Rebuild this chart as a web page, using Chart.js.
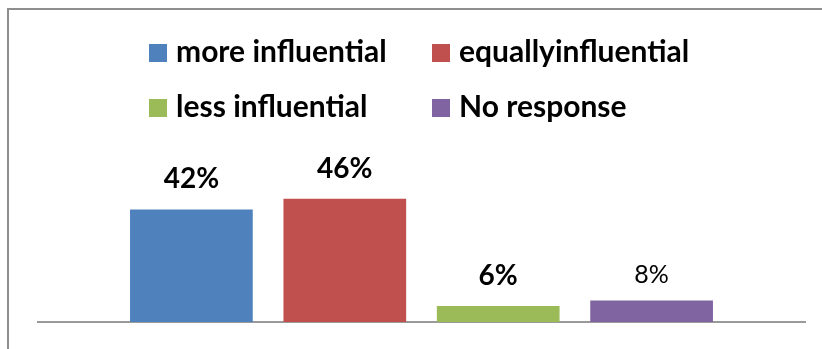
<!DOCTYPE html>
<html>
<head>
<meta charset="utf-8">
<script src="https://cdn.jsdelivr.net/npm/chart.js@4/dist/chart.umd.min.js"></script>
<style>
  html, body { margin: 0; padding: 0; background: #fff; overflow: hidden; }
  #wrap { position: relative; width: 822px; height: 349px; }
  #frame {
    position: absolute; left: 7px; top: 8px; width: 900px; height: 400px;
    border-left: 2px solid #8e8e8e; border-top: 2px solid #8e8e8e;
    box-sizing: border-box;
  }
  canvas { position: absolute; left: 0; top: 0; }
</style>
</head>
<body>
<div id="wrap">
  <div id="frame"></div>
  <canvas id="c" width="822" height="349"></canvas>
</div>
<script>
// Survey answers, one bar per answer
const answers = ['more influential', 'equallyinfluential', 'less influential', 'No response'];
const shares = [42, 46, 6, 8];            // percent of respondents
const valueLabels = ['42%', '46%', '6%', '8%'];
const colors = ['#4F81BD', '#C0504D', '#9BBB59', '#8064A2'];

const FONT = 'Lato, "Open Sans", sans-serif';

// 2x2 legend grid drawn on the canvas
const gridLegend = {
  id: 'gridLegend',
  afterDraw(chart, args, opts) {
    const ctx = chart.ctx;
    ctx.save();
    ctx.font = 'bold ' + opts.fontSize + 'px ' + FONT;
    ctx.textBaseline = 'alphabetic';
    ctx.textAlign = 'left';
    chart.data.datasets.forEach((ds, i) => {
      const col = i % 2, row = Math.floor(i / 2);
      const x = opts.cols[col], y = opts.rows[row];
      ctx.fillStyle = ds.backgroundColor;
      ctx.fillRect(x, y, opts.box, opts.box);
      ctx.fillStyle = '#000';
      ctx.fillText(ds.label, x + opts.box + opts.gap, y + opts.box);
    });
    ctx.restore();
  }
};

// value text above each bar
const barValues = {
  id: 'barValues',
  afterDatasetsDraw(chart, args, opts) {
    const ctx = chart.ctx;
    ctx.save();
    ctx.textAlign = 'center';
    ctx.textBaseline = 'alphabetic';
    ctx.fillStyle = '#000';
    chart.data.datasets.forEach((ds, i) => {
      const bar = chart.getDatasetMeta(i).data[0];
      const plain = opts.plain.includes(i);
      ctx.font = (plain ? '' : 'bold ') + (plain ? opts.plainSize : opts.size) + 'px ' + FONT;
      ctx.fillText(valueLabels[i], bar.x, bar.y - (plain ? opts.plainOffset : opts.offset));
    });
    ctx.restore();
  }
};

new Chart(document.getElementById('c'), {
  type: 'bar',
  data: {
    labels: [''],
    datasets: answers.map((a, i) => ({
      label: a,
      data: [shares[i]],
      backgroundColor: colors[i],
      borderWidth: 0,
      categoryPercentage: 0.8,
      barPercentage: 0.8
    }))
  },
  options: {
    responsive: false,
    animation: false,
    devicePixelRatio: 1,
    layout: { padding: { left: 38, right: 17, top: 188, bottom: 27 } },
    scales: {
      x: {
        display: true,
        grid: { display: false, drawTicks: false },
        border: { display: true, color: '#9a9a9a', width: 2 },
        ticks: { display: false }
      },
      y: {
        display: false,
        min: 0,
        max: 50
      }
    },
    plugins: {
      legend: { display: false },
      tooltip: { enabled: false },
      gridLegend: { cols: [149, 432], rows: [44, 99], box: 18, gap: 9, fontSize: 30 },
      barValues: { size: 28, offset: 21, plain: [3], plainSize: 25, plainOffset: 18 }
    }
  },
  plugins: [gridLegend, barValues]
});
</script>
</body>
</html>
